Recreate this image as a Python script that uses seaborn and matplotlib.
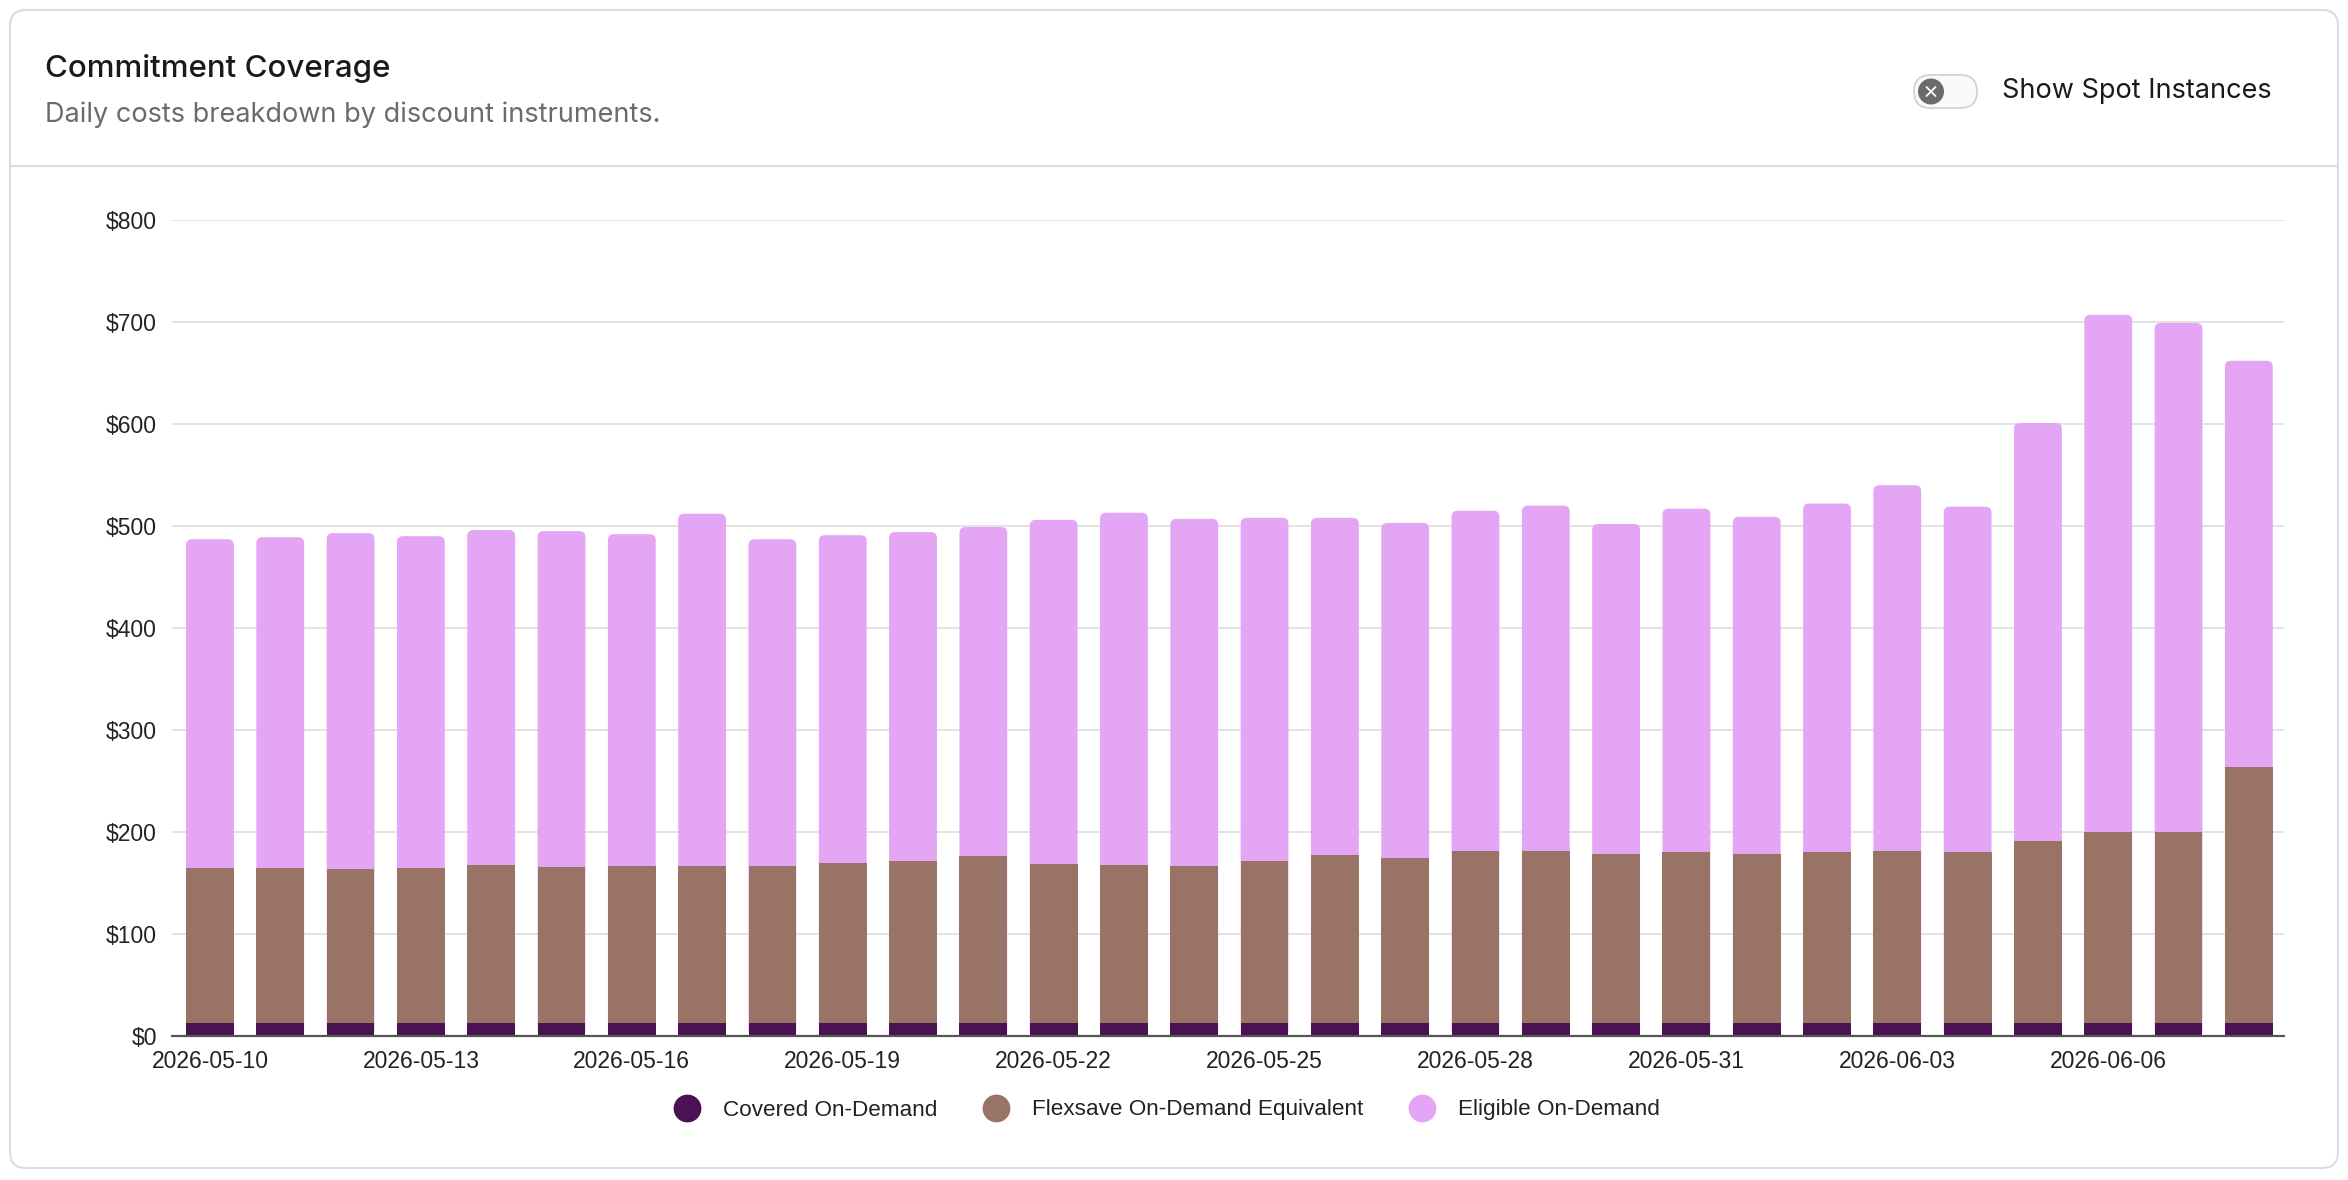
import numpy as np
import matplotlib
matplotlib.use("Agg")
import matplotlib.pyplot as plt
from matplotlib.patches import FancyBboxPatch, Circle
from matplotlib.lines import Line2D
import seaborn as sns

dates = ["2026-05-10", "2026-05-11", "2026-05-12", "2026-05-13", "2026-05-14", "2026-05-15",
         "2026-05-16", "2026-05-17", "2026-05-18", "2026-05-19", "2026-05-20", "2026-05-21",
         "2026-05-22", "2026-05-23", "2026-05-24", "2026-05-25", "2026-05-26", "2026-05-27",
         "2026-05-28", "2026-05-29", "2026-05-30", "2026-05-31", "2026-06-01", "2026-06-02",
         "2026-06-03", "2026-06-04", "2026-06-05", "2026-06-06", "2026-06-07", "2026-06-08"]
covered = [13] * 30
flexsave = [152, 152, 151, 152, 155, 153, 154, 154, 154, 157, 159, 163, 156, 155, 154,
            159, 164, 162, 168, 168, 165, 167, 165, 167, 168, 167, 178, 187, 187, 251]
eligible = [322, 324, 329, 325, 328, 329, 325, 345, 320, 321, 322, 323, 337, 345, 340,
            336, 331, 328, 334, 339, 324, 337, 331, 342, 359, 339, 410, 507, 499, 398]
series_names = ["Covered On-Demand", "Flexsave On-Demand Equivalent", "Eligible On-Demand"]
colors = ["#4a1252", "#987366", "#e3a5f4"]
yticks = [0, 100, 200, 300, 400, 500, 600, 700, 800]
ytick_labels = ["$0", "$100", "$200", "$300", "$400", "$500", "$600", "$700", "$800"]

sns.set_theme(style="white")
plt.rcParams['font.family'] = ['Liberation Sans', 'DejaVu Sans']

fig = plt.figure(figsize=(23.48, 11.8), dpi=100)
fig.patch.set_facecolor("white")

# card frame + header divider (kept behind the axes)
card = FancyBboxPatch((0.10, 0.12), 23.28, 11.58, boxstyle="round,pad=0,rounding_size=0.16",
                      transform=fig.dpi_scale_trans, facecolor="white", edgecolor="#dcdcdc", lw=1.5, zorder=-10)
fig.add_artist(card)
fig.add_artist(Line2D([0.10, 23.38], [10.14, 10.14], transform=fig.dpi_scale_trans, color="#dcdcdc", lw=1.5))

fig.text(0.45, 11.80 - 0.69, "Commitment Coverage", transform=fig.dpi_scale_trans, family="Inter",
         fontsize=22.5, color="#1a1a1a", va="center", ha="left", weight="medium")
fig.text(0.45, 11.80 - 1.15, "Daily costs breakdown by discount instruments.", transform=fig.dpi_scale_trans,
         family="Inter", fontsize=19.5, color="#6b6b6b", va="center", ha="left")

# toggle switch
ty = 10.885
track = FancyBboxPatch((19.14, ty - 0.165), 0.63, 0.33, boxstyle="round,pad=0,rounding_size=0.165",
                       transform=fig.dpi_scale_trans, facecolor="#fafafa", edgecolor="#cfcfcf", lw=1.2)
fig.add_artist(track)
fig.add_artist(Circle((19.31, ty), 0.13, transform=fig.dpi_scale_trans, facecolor="#6b6b6b", edgecolor="none"))
d = 0.045
fig.add_artist(Line2D([19.31 - d, 19.31 + d], [ty - d, ty + d], transform=fig.dpi_scale_trans, color="white", lw=1.3))
fig.add_artist(Line2D([19.31 - d, 19.31 + d], [ty + d, ty - d], transform=fig.dpi_scale_trans, color="white", lw=1.3))
fig.text(20.02, ty, "Show Spot Instances", transform=fig.dpi_scale_trans, family="Inter",
         fontsize=19.5, color="#1a1a1a", va="center", ha="left")

ax = fig.add_axes([172 / 2348, 1 - 1036 / 1180, (2284 - 172) / 2348, (1036 - 220) / 1180])
ax.set_facecolor("none")

stack1 = np.array(covered)
stack2 = stack1 + np.array(flexsave)
stack3 = stack2 + np.array(eligible)
for vals, col in zip([stack3, stack2, stack1], [colors[2], colors[1], colors[0]]):
    sns.barplot(x=dates, y=vals, color=col, saturation=1, width=0.68, errorbar=None, ax=ax,
                zorder=3, linewidth=0)

ax.set_xlim(-0.54, 29.5)
ax.set_ylim(0, 800)

# round the top corners of the full-height bars (first container), kept underneath the other segments
x_per_px = (29.5 + 0.54) / (2284 - 172)
y_per_px = 800 / (1036 - 220)
r_px = 6
for p in ax.containers[0].patches:
    rb = FancyBboxPatch((p.get_x(), p.get_y()), p.get_width(), p.get_height(),
                        boxstyle=f"round,pad=0,rounding_size={r_px * x_per_px}",
                        mutation_aspect=y_per_px / x_per_px,
                        facecolor=p.get_facecolor(), edgecolor="none", lw=0, zorder=2.5)
    ax.add_patch(rb)
    p.set_visible(False)

ax.set_yticks(yticks)
ax.set_yticklabels(ytick_labels)
ax.set_xticks(range(0, 30, 3))
ax.set_xticklabels(dates[::3])
ax.grid(axis="y", color="#e0e0e0", lw=1.3, zorder=0)
ax.set_axisbelow(True)
for s in ["left", "right", "top"]:
    ax.spines[s].set_visible(False)
ax.spines["bottom"].set_color("#555555")
ax.spines["bottom"].set_linewidth(1.6)
ax.spines["bottom"].set_zorder(5)
ax.tick_params(axis="y", length=0, pad=11, labelsize=16.5, labelcolor="#222222")
ax.tick_params(axis="x", length=0, pad=10, labelsize=16.5, labelcolor="#222222")
ax.set_xlabel("")
ax.set_ylabel("")

handles = [Line2D([], [], marker="o", ls="none", markersize=19, markerfacecolor=c, markeredgecolor=c) for c in colors]
fig.legend(handles, series_names, loc="center", bbox_to_anchor=(0.495, 1 - 1110 / 1180), ncol=3, frameon=False,
           fontsize=16.2, handletextpad=0.6, columnspacing=1.6, labelcolor="#222222")

fig.savefig("out.png", dpi=100, facecolor="white")
